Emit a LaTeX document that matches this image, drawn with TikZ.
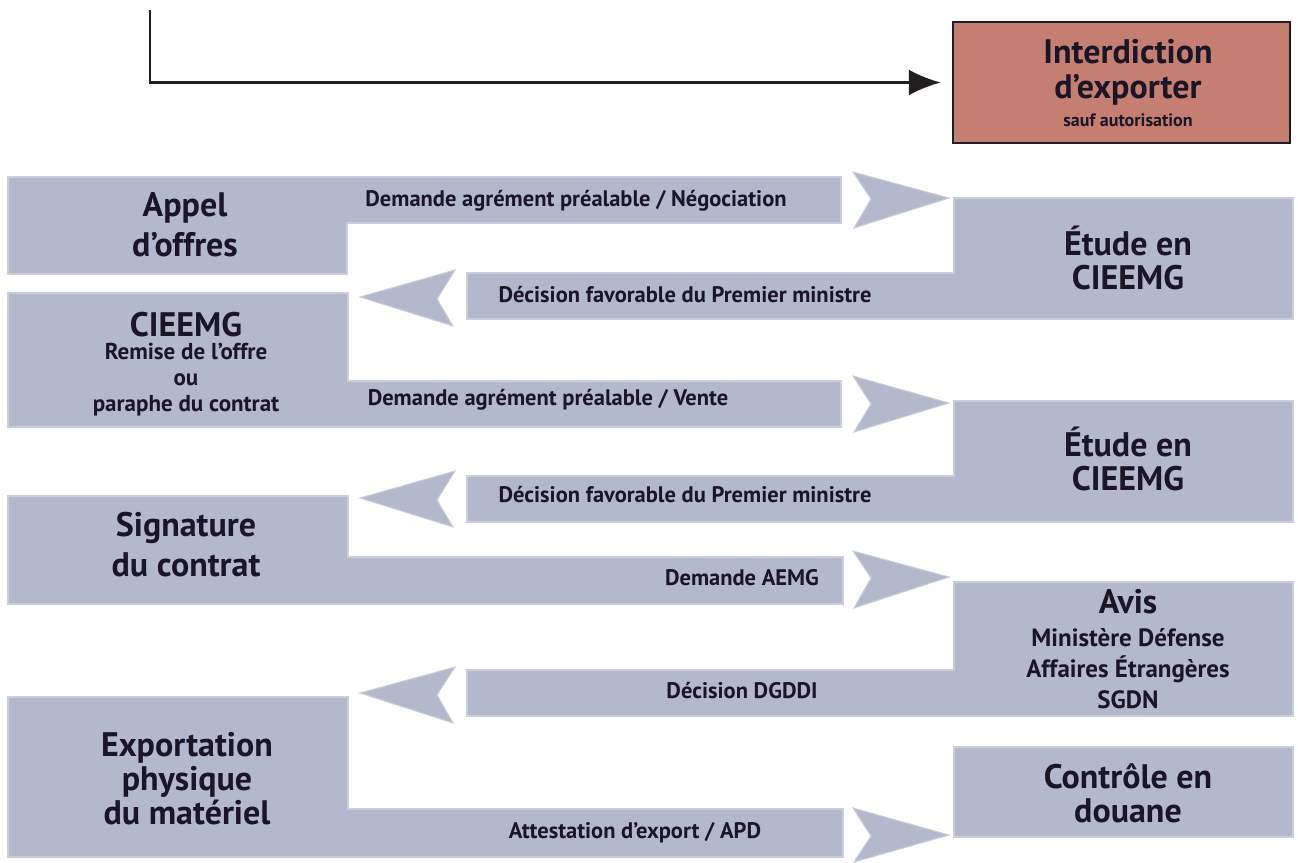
\documentclass[tikz,border=0pt]{standalone}
\usepackage{fontspec}
\setmainfont{PT Sans}
\usepackage{tikz}
\usetikzlibrary{arrows.meta}
\definecolor{panelFill}{HTML}{B4B8CC}
\definecolor{panelEdge}{HTML}{CBCED9}
\definecolor{banFill}{HTML}{C47E72}
\definecolor{banEdge}{HTML}{231F20}
\definecolor{ink}{HTML}{1B1526}

\begin{document}
\begin{tikzpicture}[x=1pt,y=-1pt]
	\tikzset{panel/.style = {fill=panelFill,draw=panelEdge,line width=1.5pt}}
	\tikzset{chevron/.style = {fill=panelFill,draw=panelEdge,line width=1pt}}
	\tikzset{big/.style = {align=center,text=ink,inner sep=0pt,font=\bfseries\fontsize{34}{34}\selectfont}}
	\tikzset{bigWide/.style = {big,font=\bfseries\fontsize{34}{40}\selectfont}}
	\tikzset{mid/.style = {align=center,text=ink,inner sep=0pt,font=\bfseries\fontsize{23}{26}\selectfont}}
	\tikzset{strip/.style = {text=ink,inner sep=0pt,font=\bfseries\fontsize{22.5}{26}\selectfont}}
	\tikzstyle{edge} = [-{Latex[length=32pt,width=26pt]},line width=2.5pt,draw=banEdge]
	\useasboundingbox (0,0) rectangle (1298,862);
	%Interdiction
	\node[draw=banEdge,fill=banFill,line width=2.5pt,minimum width=337pt,minimum height=121pt] (interdiction) at (1121.5,82.5) {};
	\node[big,font=\bfseries\fontsize{34}{35}\selectfont] (interdictionTxt) at (1128,72) {Interdiction\\d’exporter};
	\node[text=ink,inner sep=0pt,font=\bfseries\fontsize{18}{20}\selectfont] (saufTxt) at (1128,120) {sauf autorisation};
	\coordinate (origin) at (150,10);
	\draw[edge,shorten >=11pt] (origin) |- (interdiction.west);
	%row 1
	\draw[panel] (8,177) -- (841,177) -- (841,223) -- (347,223) -- (347,274) -- (8,274) -- cycle;
	\draw[chevron] (853,172) -- (949,198) -- (854,228) -- (871,199) -- cycle;
	\draw[panel] (954,198) -- (1293,198) -- (1293,319) -- (467,319) -- (467,273) -- (954,273) -- cycle;
	\draw[chevron] (360,297) -- (455,270) -- (437,299) -- (453,326) -- cycle;
	\node[bigWide] (appel) at (185,225) {Appel\\d’offres};
	\node[strip] (negociation) at (576,201) {Demande agrément préalable / Négociation};
	\node[big] (etude1) at (1128,258) {Étude en\\CIEEMG};
	\node[strip] (favorable1) at (685,295) {Décision favorable du Premier ministre};
	%row 2
	\draw[panel] (8,293) -- (348,293) -- (348,381) -- (841,381) -- (841,427) -- (8,427) -- cycle;
	\draw[chevron] (853,376) -- (949,403) -- (854,432) -- (871,404) -- cycle;
	\draw[panel] (954,401) -- (1293,401) -- (1293,522) -- (467,522) -- (467,476) -- (954,476) -- cycle;
	\draw[chevron] (360,498) -- (455,471) -- (437,500) -- (453,527) -- cycle;
	\node[big] (cieemg) at (186,325) {CIEEMG};
	\node[mid] (remise) at (186,380) {Remise de l’offre\\ou\\paraphe du contrat};
	\node[strip] (vente) at (548,400) {Demande agrément préalable / Vente};
	\node[big] (etude2) at (1128,459) {Étude en\\CIEEMG};
	\node[strip] (favorable2) at (685,495) {Décision favorable du Premier ministre};
	%row 3
	\draw[panel] (8,496) -- (348,496) -- (348,557) -- (843,557) -- (843,604) -- (8,604) -- cycle;
	\draw[chevron] (853,551) -- (949,577) -- (854,608) -- (871,578) -- cycle;
	\draw[panel] (954,582) -- (1293,582) -- (1293,716) -- (467,716) -- (467,670) -- (954,670) -- cycle;
	\draw[chevron] (360,693) -- (455,667) -- (437,695) -- (453,723) -- cycle;
	\node[bigWide] (signature) at (186,545) {Signature\\du contrat};
	\node[strip] (aemg) at (742,578) {Demande AEMG};
	\node[big] (avis) at (1128,602) {Avis};
	\node[mid,font=\bfseries\fontsize{25}{31}\selectfont] (ministeres) at (1128,669) {Ministère Défense\\Affaires Étrangères\\SGDN};
	\node[strip] (dgddi) at (742,691) {Décision DGDDI};
	%row 4
	\draw[panel] (8,697) -- (348,697) -- (348,809) -- (843,809) -- (843,857) -- (8,857) -- cycle;
	\draw[chevron] (853,808) -- (949,835) -- (854,862) -- (871,836) -- cycle;
	\node[panel,minimum width=339pt,minimum height=90pt] (controle) at (1123.5,792) {};
	\node[big] (controleTxt) at (1128,793) {Contrôle en\\douane};
	\node[big] (exportation) at (187,779) {Exportation\\physique\\du matériel};
	\node[strip] (attestation) at (635,833) {Attestation d’export / APD};
\end{tikzpicture}
\end{document}
